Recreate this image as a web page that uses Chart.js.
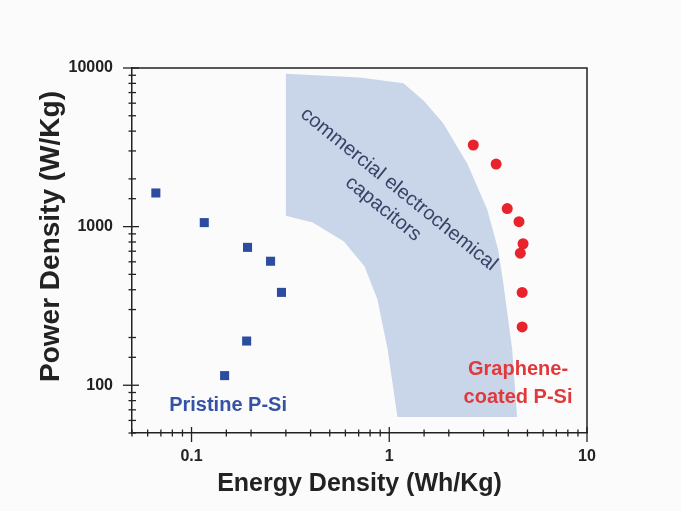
<!DOCTYPE html>
<html>
<head>
<meta charset="utf-8">
<script src="https://cdn.jsdelivr.net/npm/chart.js@4.4.1/dist/chart.umd.min.js"></script>
<style>
    html, body { margin: 0; padding: 0; background: #fbfbfb; }
    #wrap { width: 681px; height: 511px; }
</style>
</head>
<body>
<div id="wrap"><canvas id="myChart" width="681" height="511"></canvas></div>
<script>
// Pristine P-Si (blue squares)
var pristineEnergy = [0.066, 0.116, 0.192, 0.251, 0.285, 0.19, 0.147];
var pristinePower = [1630, 1060, 740, 605, 385, 190, 115];

// Graphene-coated P-Si (red circles)
var grapheneEnergy = [2.66, 3.47, 3.95, 4.53, 4.75, 4.6, 4.7, 4.7];
var graphenePower = [3270, 2480, 1300, 1075, 780, 680, 385, 233];

// commercial electrochemical capacitors region (outline)
var regionEnergy = [0.30, 0.71, 1.18, 1.49, 1.87, 2.48, 3.13, 3.55, 3.77, 4.18, 4.43, 1.10, 0.98, 0.87, 0.75, 0.59, 0.41, 0.30, 0.30];
var regionPower = [9200, 8700, 8000, 6250, 4500, 2500, 1280, 720, 445, 170, 63, 63, 170, 350, 560, 805, 1060, 1170, 9200];

var xMajorTicks = [0.1, 1, 10];
var yMajorTicks = [100, 1000, 10000];

function toPoints(xs, ys) {
    var pts = [];
    for (var i = 0; i < xs.length; i++) {
        pts.push({ x: xs[i], y: ys[i] });
    }
    return pts;
}

function isMajor(v, list) {
    for (var i = 0; i < list.length; i++) {
        if (Math.abs(v - list[i]) / list[i] < 1e-6) return true;
    }
    return false;
}

var axisColor = '#222222';

// ticks that cross the axis line, plus the top/right frame
var frameTicks = {
    id: 'frameTicks',
    afterDraw: function (chart) {
        var ctx = chart.ctx;
        var a = chart.chartArea;
        var xs = chart.scales.x;
        var ys = chart.scales.y;
        ctx.save();
        ctx.strokeStyle = axisColor;
        ctx.lineWidth = 1.5;
        ctx.beginPath();
        ctx.moveTo(a.left, a.top);
        ctx.lineTo(a.right, a.top);
        ctx.lineTo(a.right, a.bottom);
        ctx.stroke();

        ctx.lineWidth = 1.3;
        xs.ticks.forEach(function (t) {
            var px = xs.getPixelForValue(t.value);
            var major = isMajor(t.value, xMajorTicks);
            ctx.beginPath();
            ctx.moveTo(px, a.bottom - (major ? 6 : 3.5));
            ctx.lineTo(px, a.bottom + (major ? 9 : 3.5));
            ctx.stroke();
        });
        ys.ticks.forEach(function (t) {
            var py = ys.getPixelForValue(t.value);
            var major = isMajor(t.value, yMajorTicks);
            ctx.beginPath();
            ctx.moveTo(a.left - (major ? 9 : 3.5), py);
            ctx.lineTo(a.left + (major ? 7 : 4), py);
            ctx.stroke();
        });
        ctx.restore();
    }
};

// text labels placed at data coordinates
var textLabels = {
    id: 'textLabels',
    afterDatasetsDraw: function (chart) {
        var ctx = chart.ctx;
        var xs = chart.scales.x;
        var ys = chart.scales.y;
        var a = chart.chartArea;
        ctx.save();
        ctx.textAlign = 'center';
        ctx.textBaseline = 'middle';

        // region label, rotated
        ctx.save();
        ctx.translate(xs.getPixelForValue(1.023), ys.getPixelForValue(1500));
        ctx.rotate(39 * Math.PI / 180);
        ctx.fillStyle = '#3b4266';
        ctx.font = '20px "Liberation Sans", Arial, sans-serif';
        ctx.fillText('commercial electrochemical', 0, -12);
        ctx.fillText('capacitors', 0, 13);
        ctx.restore();

        ctx.font = 'bold 20px "Liberation Sans", Arial, sans-serif';
        ctx.fillStyle = '#3553a6';
        ctx.fillText('Pristine P-Si', xs.getPixelForValue(0.153), ys.getPixelForValue(75));

        ctx.fillStyle = '#e0393c';
        ctx.fillText('Graphene-', xs.getPixelForValue(4.48), ys.getPixelForValue(125));
        ctx.fillText('coated P-Si', xs.getPixelForValue(4.48), ys.getPixelForValue(83.5));

        // y axis title
        ctx.save();
        ctx.translate(a.left - 81, (a.top + a.bottom) / 2 - 14);
        ctx.rotate(-Math.PI / 2);
        ctx.fillStyle = '#222222';
        ctx.font = 'bold 28px "Liberation Sans", Arial, sans-serif';
        ctx.fillText('Power Density (W/Kg)', 0, 0);
        ctx.restore();

        ctx.restore();
    }
};

var data = {
    datasets: [
        {
            label: 'Pristine P-Si',
            data: toPoints(pristineEnergy, pristinePower),
            pointStyle: 'rect',
            pointRadius: 6.4,
            backgroundColor: '#2c4c9f',
            borderColor: '#2c4c9f',
            borderWidth: 0
        },
        {
            label: 'Graphene-coated P-Si',
            data: toPoints(grapheneEnergy, graphenePower),
            pointStyle: 'circle',
            pointRadius: 5.5,
            backgroundColor: '#e8232b',
            borderColor: '#e8232b',
            borderWidth: 0
        },
        {
            type: 'line',
            label: 'commercial electrochemical capacitors',
            data: toPoints(regionEnergy, regionPower),
            showLine: true,
            fill: 'shape',
            tension: 0,
            pointRadius: 0,
            borderWidth: 0,
            borderColor: 'rgba(0,0,0,0)',
            backgroundColor: '#c9d6ea'
        }
    ]
};

var config = {
    type: 'scatter',
    data: data,
    options: {
        responsive: false,
        animation: false,
        layout: {
            padding: { left: 0, top: 68, right: 94, bottom: 0 }
        },
        plugins: {
            legend: { display: false },
            tooltip: { enabled: false },
            title: { display: false }
        },
        scales: {
            x: {
                type: 'logarithmic',
                min: 0.05,
                max: 10,
                grid: { display: false, drawTicks: false },
                border: { display: true, color: axisColor, width: 1.5 },
                ticks: {
                    autoSkip: false,
                    maxRotation: 0,
                    padding: 14,
                    color: '#222222',
                    font: { family: '"Liberation Sans", Arial, sans-serif', size: 16, weight: 'bold' },
                    callback: function (value) {
                        return isMajor(value, xMajorTicks) ? String(value) : '';
                    }
                },
                title: {
                    display: true,
                    text: 'Energy Density (Wh/Kg)',
                    color: '#222222',
                    padding: { top: 0, bottom: 12 },
                    font: { family: '"Liberation Sans", Arial, sans-serif', size: 25, weight: 'bold' }
                },
                afterFit: function (scale) { scale.height = 78; }
            },
            y: {
                type: 'logarithmic',
                min: 50,
                max: 10000,
                grid: { display: false, drawTicks: false },
                border: { display: true, color: axisColor, width: 1.5 },
                ticks: {
                    autoSkip: false,
                    padding: 19,
                    color: '#222222',
                    font: { family: '"Liberation Sans", Arial, sans-serif', size: 16, weight: 'bold' },
                    callback: function (value) {
                        return isMajor(value, yMajorTicks) ? String(value) : '';
                    }
                },
                afterFit: function (scale) { scale.width = 132; }
            }
        }
    },
    plugins: [frameTicks, textLabels]
};

var myChart;
var ctx = document.getElementById('myChart').getContext('2d');
myChart = new Chart(ctx, config);
</script>
</body>
</html>
